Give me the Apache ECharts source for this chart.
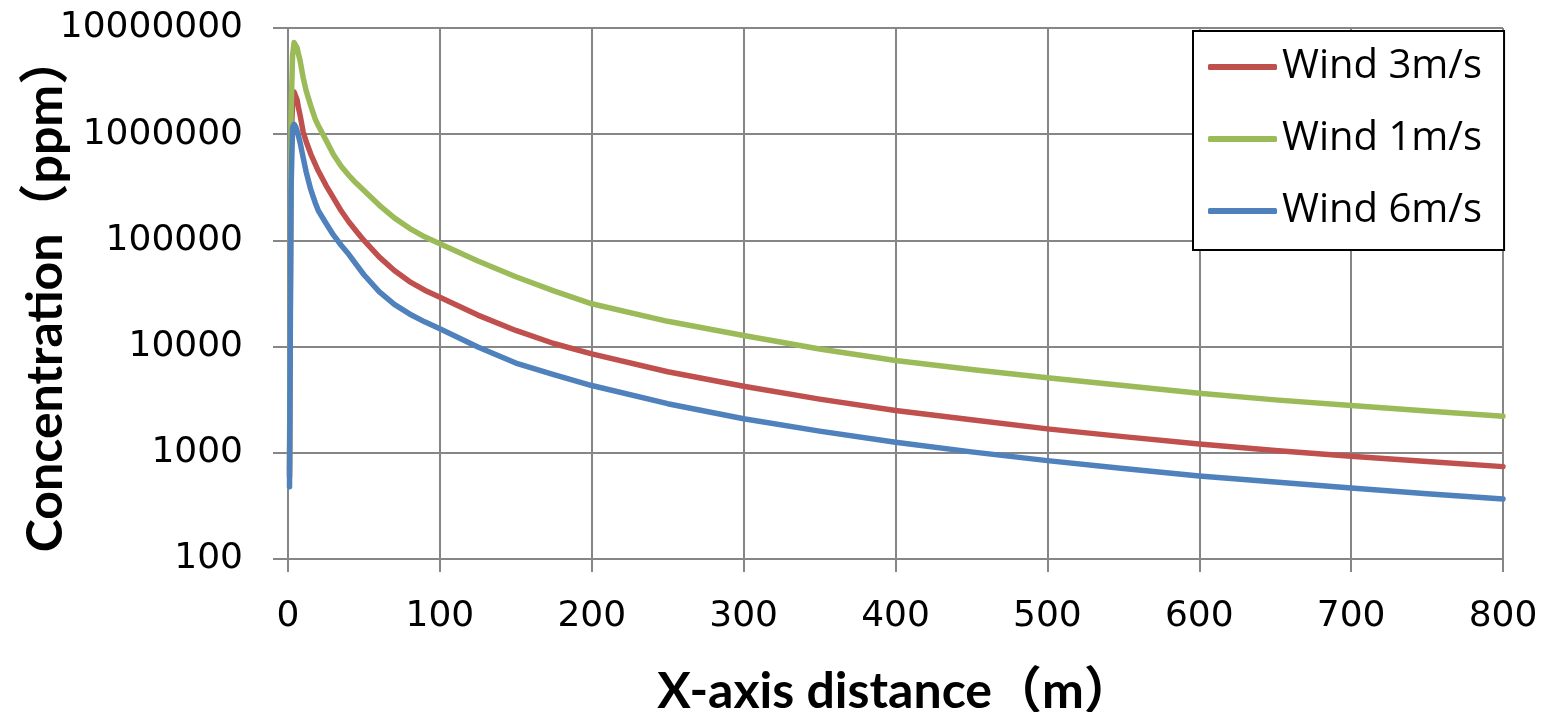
<!DOCTYPE html>
<html lang="en">
<head>
    <meta charset="UTF-8">
    <title>Concentration vs distance</title>
    <style>
        body,html{
            margin: 0;
            height: 100%;
            width: 100%;
            background: #fff;
        }
    </style>
</head>
<body>

<div id="main" style="height: 712px; width: 1547px;"></div>
<script src="https://cdn.jsdelivr.net/npm/echarts@6/dist/echarts.min.js"></script>
<script>
    // distance along x axis (m)
    var distance = [1, 2, 3, 4, 5, 6, 7, 8, 10, 12, 15, 18, 20, 25, 30, 35, 40, 45, 50, 60, 70, 80, 90,
        100, 125, 150, 175, 200, 250, 300, 350, 400, 450, 500, 550, 600, 650, 700, 750, 800];

    // concentration (ppm)
    var wind3 = [600, 800000, 2000000, 2500000, 2450000, 2100000, 1740000, 1500000, 1050000, 850000,
        650000, 520000, 450000, 330000, 250000, 190000, 150000, 122000, 100000, 70000, 52000, 41000, 34000,
        29200, 19800, 14200, 10700, 8550, 5800, 4240, 3200, 2500, 2050, 1680, 1420, 1213, 1050, 927, 830, 741];
    var wind1 = [700, 1500000, 5500000, 7300000, 7300000, 6500000, 5600000, 4900000, 3400000, 2550000,
        1850000, 1380000, 1200000, 880000, 640000, 500000, 410000, 345000, 295000, 215000, 163000, 130000, 108000,
        93000, 64000, 45500, 33500, 25300, 17300, 12700, 9500, 7400, 6100, 5080, 4300, 3640, 3150, 2790, 2470, 2210];
    var wind6 = [480, 300000, 1150000, 1240000, 1180000, 1070000, 950000, 830000, 600000, 440000,
        300000, 225000, 190000, 145000, 112000, 90000, 74000, 59000, 47500, 33000, 25000, 20300, 17100,
        14700, 9900, 7000, 5450, 4300, 2900, 2090, 1600, 1255, 1020, 844, 710, 605, 530, 467, 412, 367];

    var seriesNames = ['Wind 3m/s', 'Wind 1m/s', 'Wind 6m/s'];
    var seriesColors = ['#C0504D', '#9BBB59', '#4F81BD'];
    var seriesValues = [wind3, wind1, wind6];

    var gridColor = '#868686';
    var labelFont = 'DejaVu Sans';
    var titleFont = 'Lato, "Noto Sans CJK SC"';

    function pairs(xs, ys) {
        return xs.map(function (x, i) {
            return [x, ys[i]];
        });
    }

    var myChart = echarts.init(document.getElementById('main'));
    myChart.setOption({
        animation: false,
        grid: {
            left: 288,
            right: 44,
            top: 28,
            bottom: 153,
            outerBoundsMode: 'none',
            containLabel: false
        },
        legend: {
            orient: 'vertical',
            left: 1193,
            top: 31,
            data: seriesNames,
            icon: 'roundRect',
            itemWidth: 69,
            itemHeight: 6,
            itemGap: 28,
            padding: [14, 22, 17, 15],
            borderColor: '#000',
            borderWidth: 2,
            backgroundColor: '#fff',
            textStyle: {
                fontFamily: 'Open Sans',
                fontSize: 40,
                lineHeight: 44,
                color: '#000'
            }
        },
        xAxis: {
            type: 'value',
            min: 0,
            max: 800,
            interval: 100,
            name: 'X-axis distance（m）',
            nameLocation: 'middle',
            nameGap: 108,
            nameMoveOverlap: false,
            nameTextStyle: {
                fontFamily: titleFont,
                fontWeight: 'bold',
                fontSize: 50,
                color: '#000'
            },
            axisLine: {lineStyle: {color: gridColor, width: 2}},
            axisTick: {show: true, length: 13, lineStyle: {color: gridColor, width: 2}},
            axisLabel: {
                margin: 40,
                fontFamily: labelFont,
                fontSize: 36,
                color: '#000'
            },
            splitLine: {show: true, lineStyle: {color: gridColor, width: 2}}
        },
        yAxis: {
            type: 'log',
            logBase: 10,
            min: 100,
            max: 10000000,
            name: 'Concentration（ppm）',
            nameLocation: 'middle',
            nameRotate: 90,
            nameGap: 217,
            nameMoveOverlap: false,
            nameTextStyle: {
                fontFamily: titleFont,
                fontWeight: 'bold',
                fontSize: 50,
                color: '#000'
            },
            axisLine: {show: true, lineStyle: {color: gridColor, width: 2}},
            axisTick: {show: true, length: 15, lineStyle: {color: gridColor, width: 2}},
            axisLabel: {
                margin: 45,
                fontFamily: labelFont,
                fontSize: 36,
                color: '#000',
                formatter: function (v) {
                    return String(Math.round(v));
                }
            },
            splitLine: {show: true, lineStyle: {color: gridColor, width: 2}}
        },
        series: seriesNames.map(function (name, i) {
            return {
                name: name,
                type: 'line',
                data: pairs(distance, seriesValues[i]),
                showSymbol: false,
                color: seriesColors[i],
                lineStyle: {width: 5.5, color: seriesColors[i], cap: 'round', join: 'round'}
            };
        })
    });
</script>
</body>
</html>
